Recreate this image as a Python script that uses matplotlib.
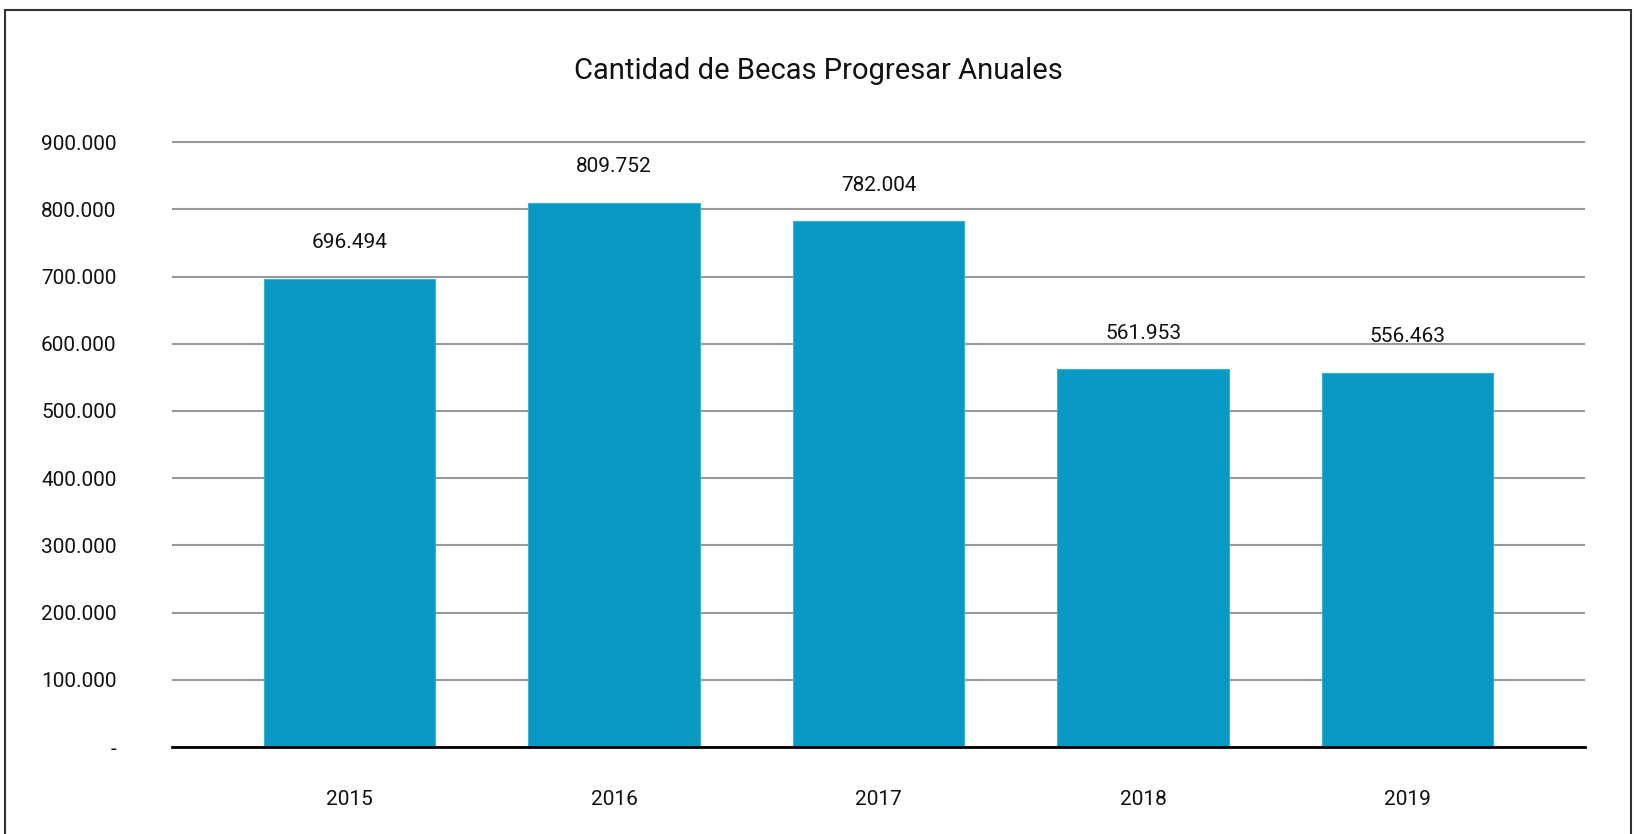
import matplotlib
matplotlib.use('Agg')
import matplotlib.pyplot as plt
from matplotlib.patches import Rectangle

# data
years = ['2015', '2016', '2017', '2018', '2019']
becas = [696494, 809752, 782004, 561953, 556463]
value_labels = ['696.494', '809.752', '782.004', '561.953', '556.463']
y_ticks = [0, 100000, 200000, 300000, 400000, 500000, 600000, 700000, 800000, 900000]
y_tick_labels = ['-', '100.000', '200.000', '300.000', '400.000', '500.000',
                 '600.000', '700.000', '800.000', '900.000']

W, H = 1636, 834
plt.rcParams['font.family'] = ['Roboto', 'DejaVu Sans']

fig = plt.figure(figsize=(W / 100, H / 100), dpi=100)
# plot area in pixels: x 172..1585, y 142(900k)..747(0)
left, right = 172, 1585
bottom, top = 747, 747 - 67.2 * 9.9
ax = fig.add_axes([left / W, 1 - bottom / H, (right - left) / W, (bottom - top) / H])

x = list(range(len(years)))
ax.bar(x, becas, width=0.647, color='#089AC4', edgecolor='#3AB0D3', linewidth=0.8, zorder=3)

for xi, v, lab in zip(x, becas, value_labels):
    ax.annotate(lab, (xi, v), xytext=(0, 26), textcoords='offset points',
                ha='center', va='center', fontsize=15, color='#111111')

ax.set_xlim(-0.671, 4.671)
ax.set_ylim(0, 990000)
ax.set_yticks(y_ticks)
ax.set_yticklabels(y_tick_labels)
ax.set_xticks(x)
ax.set_xticklabels(years)
ax.tick_params(axis='both', length=0, labelsize=15, colors='#111111')
ax.tick_params(axis='y', pad=40)   # points, about 56 px
ax.tick_params(axis='x', pad=31)

ax.yaxis.grid(True, color='#999999', linewidth=1.5, zorder=0)
ax.set_axisbelow(True)
for s in ['top', 'right', 'left']:
    ax.spines[s].set_visible(False)
ax.spines['bottom'].set_color('black')
ax.spines['bottom'].set_linewidth(2)
ax.spines['bottom'].set_zorder(4)

fig.text(0.5, 1 - 71 / H, 'Cantidad de Becas Progresar Anuales',
         ha='center', va='center', fontsize=21, color='#111111')

# outer frame (open at the bottom)
fig.patches.append(Rectangle((5 / W, -0.05), 1626 / W, 1.05 - 10 / H,
                             transform=fig.transFigure, fill=False,
                             edgecolor='#333333', linewidth=1.5))

fig.savefig('out.png', dpi=100)
